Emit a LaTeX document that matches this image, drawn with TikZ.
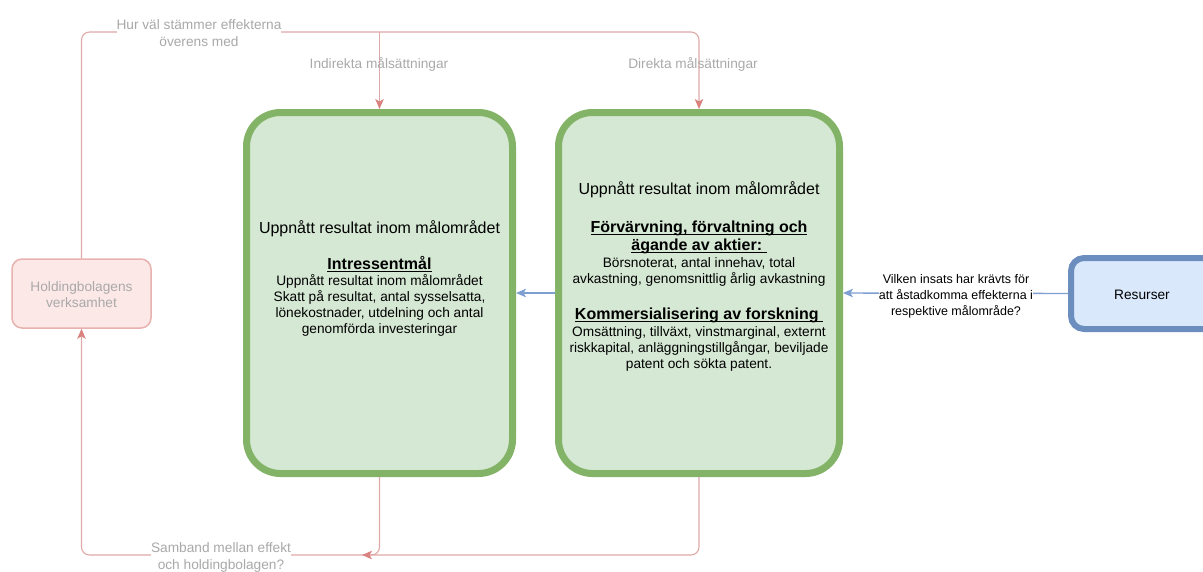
\documentclass[tikz,border=0pt]{standalone}
\usepackage{fontspec}
\setmainfont{Liberation Sans}
\usetikzlibrary{arrows.meta}

% underline at a fixed depth below the baseline
\newsavebox{\ulinebox}
\newcommand{\fixuline}[1]{\sbox{\ulinebox}{#1}\rlap{\usebox{\ulinebox}}\rule[-2.6pt]{\wd\ulinebox}{1pt}}

\definecolor{greenfill}{HTML}{D5E8D4}
\definecolor{greenline}{HTML}{82B366}
\definecolor{bluefill}{HTML}{DAE8FC}
\definecolor{blueline}{HTML}{6C8EBF}
\definecolor{redfill}{HTML}{FCE8E7}
\definecolor{redline}{HTML}{E7B2B0}
\definecolor{redline2}{HTML}{DFA9A7}
\definecolor{redtip}{HTML}{D9827F}
\definecolor{labelgray}{HTML}{A9A9A9}
\definecolor{linkblue}{HTML}{7F9ED2}

\begin{document}
\begin{tikzpicture}[x=1pt,y=-1pt,
  goalbox/.style={draw=greenline, fill=greenfill, line width=7pt,
    rounded corners=34pt, minimum height=361pt, inner sep=0pt},
  resbox/.style={draw=blueline, fill=bluefill, line width=6pt,
    rounded corners=13pt, minimum width=170pt, minimum height=71pt, inner sep=0pt},
  holdbox/.style={draw=redline, fill=redfill, line width=1.5pt,
    rounded corners=10pt, minimum width=139pt, minimum height=69pt, inner sep=0pt},
  titletext/.style={anchor=base, inner sep=0pt, font=\fontsize{16}{19}\selectfont},
  headtext/.style={anchor=base, inner sep=0pt, font=\fontsize{16}{19}\selectfont\bfseries},
  bodytext/.style={anchor=base, inner sep=0pt, font=\fontsize{13.7}{16}\selectfont},
  graylabel/.style={text=labelgray, inner sep=0pt, align=center,
    font=\fontsize{13.7}{17}\selectfont},
  redconn/.style={draw=redline2, line width=1.1pt, rounded corners=8pt},
  redtipstyle/.style={-{Stealth[length=10pt,width=8.5pt,inset=2.5pt,color=redtip]}},
  blueconn/.style={draw=linkblue, line width=1.4pt,
    -{Stealth[length=10pt,width=8.5pt,inset=2.5pt]}}
]
\useasboundingbox (0,0) rectangle (1203,571);

% boxes (the resources box runs past the right margin)
\node[goalbox, minimum width=266pt] (lbox) at (379.5,293) {};
\node[goalbox, minimum width=281pt] (rbox) at (699,293) {};
\node[holdbox] (hold) at (81.5,293.5) {};
\node[resbox] (res) at (1156,293.5) {};

% text of the indirect goal box
\node[titletext] (ltitle) at (379.5,233.5) {Uppnått resultat inom målområdet};
\node[headtext] (lhead) at (379.5,269) {\fixuline{Intressentmål}};
\node[bodytext] (lb1) at (379.5,285) {Uppnått resultat inom målområdet};
\node[bodytext] (lb2) at (379.5,301) {Skatt på resultat, antal sysselsatta,};
\node[bodytext] (lb3) at (379.5,317) {lönekostnader, utdelning och antal};
\node[bodytext] (lb4) at (379.5,333) {genomförda investeringar};

% text of the direct goal box
\node[titletext] (rtitle) at (699,194.5) {Uppnått resultat inom målområdet};
\node[headtext] (rh1a) at (699,232.5) {\fixuline{Förvärvning, förvaltning och}};
\node[headtext] (rh1b) at (699,250.5) {\fixuline{ägande av aktier:\ }};
\node[bodytext] (rb1) at (699,267) {Börsnoterat, antal innehav, total};
\node[bodytext] (rb2) at (699,283) {avkastning, genomsnittlig årlig avkastning};
\node[headtext] (rh2) at (699,319.5) {\fixuline{Kommersialisering av forskning\ }};
\node[bodytext] (rb3) at (699,336.5) {Omsättning, tillväxt, vinstmarginal, externt};
\node[bodytext] (rb4) at (699,352.5) {riskkapital, anläggningstillgångar, beviljade};
\node[bodytext] (rb5) at (699,368.5) {patent och sökta patent.};

\node[bodytext, text=labelgray] (holdt1) at (81.5,291) {Holdingbolagens};
\node[bodytext, text=labelgray] (holdt2) at (81.5,307.5) {verksamhet};
\node[bodytext] (rest) at (1142,299.5) {Resurser};

% routing points of the feedback loop
\coordinate (topleft) at (81.5,32);
\coordinate (topright) at (699,32);
\coordinate (botleft) at (81.5,555);
\coordinate (botright) at (699,555);
\coordinate (sambandend) at (362,555);

% top: from the holding companies to both goal boxes
\draw[redconn, redtipstyle] (hold.north) -- (topleft) -- (topright) -- (rbox.north);
\draw[redconn, redtipstyle] (lbox.north |- topleft) -- (lbox.north);

% bottom: from the goal boxes back to the holding companies
\draw[redconn, redtipstyle] (lbox.south) |- (botleft) -- (hold.south);
\draw[redconn, redtipstyle] (rbox.south) -- (botright) -- (sambandend);

% resources and the link between the goal boxes
\draw[blueconn] (res.west) -- (rbox.east);
\draw[blueconn] (rbox.west) -- (lbox.east);

% edge labels
\node[graylabel, fill=white] (qtop) at (199,33.5) {Hur väl stämmer effekterna\\överens med};
\node[graylabel] (qind) at (379,64) {Indirekta målsättningar};
\node[graylabel] (qdir) at (693,64) {Direkta målsättningar};
\node[graylabel, fill=white] (qbot) at (221,557.5) {Samband mellan effekt\\och holdingbolagen?};
\node[fill=white, inner sep=0pt, align=center, font=\fontsize{12.5}{16}\selectfont]
  (qres) at (956,296) {Vilken insats har krävts för\\att åstadkomma effekterna i\\respektive målområde?};
\end{tikzpicture}
\end{document}
